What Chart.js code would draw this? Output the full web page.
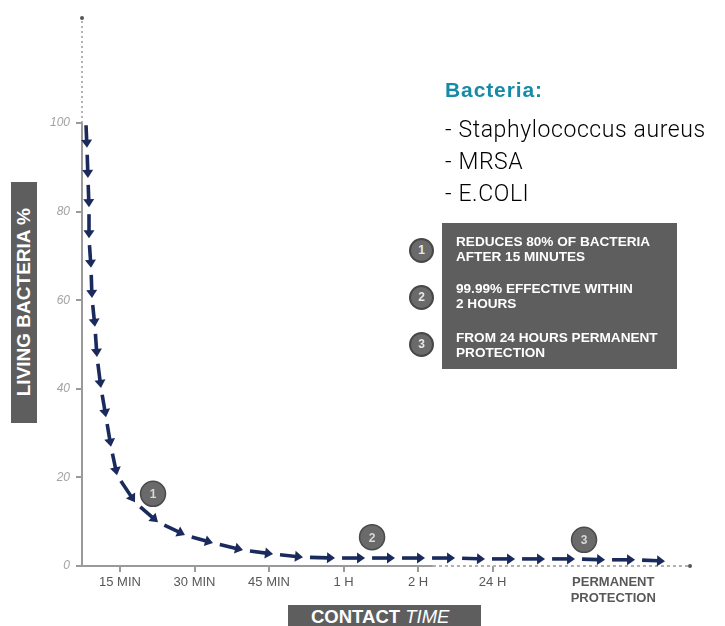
<!DOCTYPE html>
<html>
<head>
<meta charset="utf-8">
<script src="https://cdn.jsdelivr.net/npm/chart.js@4/dist/chart.umd.min.js"></script>
<style>
  body { margin: 0; background: #fff; }
  #wrap { position: relative; width: 725px; height: 626px; overflow: hidden; font-family: 'Liberation Sans', Arial, sans-serif; }
  #chart { position: absolute; left: 0; top: 0; }
  .ytitle { position: absolute; left: 11px; top: 182px; width: 26px; height: 241px; background: #5e5e5e;
            display: flex; align-items: center; justify-content: center; }
  .ytitle span { writing-mode: vertical-rl; transform: rotate(180deg); color: #fff; font-weight: bold; font-size: 19px; white-space: nowrap; }
  .xtitle { position: absolute; left: 288px; top: 605px; width: 193px; height: 30px; background: #5e5e5e; }
  .xtitle span { position: absolute; left: 23px; top: 3px; line-height: 1; color: #fff; font-size: 18.5px; white-space: nowrap; }
  .bact { position: absolute; left: 445px; line-height: 1; white-space: nowrap; }
  .bact.head { color: #168ba7; font-weight: bold; font-size: 21px; letter-spacing: 0.9px; }
  .bact.item { color: #000; font-family: Roboto, sans-serif; font-weight: 300; font-size: 23px; letter-spacing: 0.6px; }
  .notes { position: absolute; left: 442px; top: 223px; width: 235px; height: 146px; background: #5e5e5e; }
  .note { position: absolute; left: 14px; color: #fff; font-weight: bold; font-size: 13.6px; line-height: 15px; white-space: nowrap; }
  .dot { position: absolute; width: 21px; height: 21px; border-radius: 50%; background: #6a6a6a; border: 2px solid #474747;
         color: #e8e8e8; font-weight: bold; font-size: 12px; line-height: 21px; text-align: center; }
</style>
</head>
<body>
<div id="wrap">
  <canvas id="chart" width="725" height="626"></canvas>
  <div class="ytitle"><span>LIVING BACTERIA %</span></div>
  <div class="xtitle"><span><b>CONTACT</b> <i>TIME</i></span></div>
  <div class="bact head" style="top:79px">Bacteria:</div>
  <div class="bact item" style="top:118px">- Staphylococcus aureus</div>
  <div class="bact item" style="top:150px">- MRSA</div>
  <div class="bact item" style="top:182px">- E.COLI</div>
  <div class="dot" style="left:409px; top:238px">1</div>
  <div class="dot" style="left:409px; top:285px">2</div>
  <div class="dot" style="left:409px; top:332px">3</div>
  <div class="notes">
    <div class="note" style="top:11px">REDUCES 80% OF BACTERIA<br>AFTER 15 MINUTES</div>
    <div class="note" style="top:58px">99.99% EFFECTIVE WITHIN<br>2 HOURS</div>
    <div class="note" style="top:107px">FROM 24 HOURS PERMANENT<br>PROTECTION</div>
  </div>
</div>
<script>
// curve: arrow tips along the decay line (first point is where the line starts)
const arrowX = [0.544, 0.557, 0.570, 0.584, 0.584, 0.611, 0.624, 0.664, 0.691, 0.745, 0.812, 0.879, 0.960,
                1.201, 1.510, 1.872, 2.248, 2.651, 3.054, 3.456, 3.886, 4.289, 4.691, 5.094, 5.497, 5.899,
                6.302, 6.705, 7.107, 7.510, 7.913, 8.315];
const arrowY = [99.5, 94.4, 87.6, 81.0, 74.0, 67.3, 60.5, 54.0, 47.2, 40.2, 33.6, 26.9, 20.5,
                14.4, 9.9, 7.0, 5.2, 3.6, 2.7, 2.0, 1.8, 1.8, 1.8, 1.8, 1.8, 1.6,
                1.6, 1.6, 1.6, 1.4, 1.4, 1.1];
// numbered markers on the curve
const markerX = [1.443, 4.383, 7.228];
const markerY = [16.3, 6.5, 5.9];
const markerLabels = ['1', '2', '3'];
// axes
const xTickValues = [1, 2, 3, 4, 5, 6, 7.62];
const xTickLabels = ['15 MIN', '30 MIN', '45 MIN', '1 H', '2 H', '24 H', ['PERMANENT', 'PROTECTION']];
const yTickValues = [0, 20, 40, 60, 80, 100];

const navy = '#1b2a5c';
const axisGrey = '#9a9a9a';

// hand drawn looking axes: solid part, dotted extension, end dot
const axisPlugin = {
    id: 'axisLines',
    beforeDatasetsDraw(chart) {
        const ctx = chart.ctx;
        const a = chart.chartArea;
        const xs = chart.scales.x;
        const ys = chart.scales.y;
        ctx.save();
        ctx.strokeStyle = axisGrey;
        ctx.lineWidth = 2;
        // y axis
        ctx.beginPath();
        ctx.moveTo(a.left, a.bottom);
        ctx.lineTo(a.left, ys.getPixelForValue(100));
        ctx.stroke();
        ctx.setLineDash([2, 3]);
        ctx.lineWidth = 1.5;
        ctx.beginPath();
        ctx.moveTo(a.left, ys.getPixelForValue(100));
        ctx.lineTo(a.left, a.top);
        ctx.stroke();
        // x axis
        ctx.setLineDash([]);
        ctx.lineWidth = 2;
        ctx.beginPath();
        ctx.moveTo(a.left - 6, a.bottom);
        ctx.lineTo(xs.getPixelForValue(5.2), a.bottom);
        ctx.stroke();
        ctx.setLineDash([3, 3]);
        ctx.strokeStyle = '#b0b0b0';
        ctx.beginPath();
        ctx.moveTo(xs.getPixelForValue(5.2), a.bottom);
        ctx.lineTo(a.right, a.bottom);
        ctx.stroke();
        ctx.fillStyle = '#555';
        ctx.beginPath();
        ctx.arc(a.left, a.top, 2, 0, Math.PI * 2);
        ctx.arc(a.right, a.bottom, 2, 0, Math.PI * 2);
        ctx.fill();
        ctx.restore();
    }
};

// dashes with arrow heads between consecutive curve points
const arrowPlugin = {
    id: 'arrows',
    afterDatasetsDraw(chart) {
        const ctx = chart.ctx;
        const pts = chart.getDatasetMeta(0).data;
        ctx.save();
        ctx.strokeStyle = navy;
        ctx.fillStyle = navy;
        ctx.lineWidth = 3.6;
        for (let i = 1; i < pts.length; i++) {
            const p0 = pts[i - 1], p1 = pts[i];
            const dx = p1.x - p0.x, dy = p1.y - p0.y;
            const len = Math.sqrt(dx * dx + dy * dy);
            const ux = dx / len, uy = dy / len;
            const gap = i === 1 ? 0 : 7;
            const head = 8;
            const half = 5.5;
            ctx.beginPath();
            ctx.moveTo(p0.x + ux * gap, p0.y + uy * gap);
            ctx.lineTo(p1.x - ux * (head - 1), p1.y - uy * (head - 1));
            ctx.stroke();
            ctx.beginPath();
            ctx.moveTo(p1.x, p1.y);
            ctx.lineTo(p1.x - ux * head - uy * half, p1.y - uy * head + ux * half);
            ctx.lineTo(p1.x - ux * head + uy * half, p1.y - uy * head - ux * half);
            ctx.closePath();
            ctx.fill();
        }
        // numbers on markers
        const marks = chart.getDatasetMeta(1).data;
        ctx.fillStyle = '#d8d8d8';
        ctx.font = 'bold 12px "Liberation Sans", Arial, sans-serif';
        ctx.textAlign = 'center';
        ctx.textBaseline = 'middle';
        marks.forEach((m, i) => ctx.fillText(markerLabels[i], m.x, m.y + 1));
        ctx.restore();
    }
};

new Chart(document.getElementById('chart'), {
    type: 'scatter',
    data: {
        datasets: [{
            label: 'living bacteria',
            data: arrowX.map((x, i) => ({ x: x, y: arrowY[i] })),
            pointRadius: 0,
            showLine: false
        }, {
            label: 'markers',
            data: markerX.map((x, i) => ({ x: x, y: markerY[i] })),
            pointRadius: 12.5,
            pointHoverRadius: 12.5,
            backgroundColor: '#6a6a6a',
            borderColor: '#4a4a4a',
            borderWidth: 1.5
        }]
    },
    options: {
        responsive: false,
        animation: false,
        layout: { padding: { top: 18, right: 35, left: 0, bottom: 0 } },
        plugins: {
            legend: { display: false },
            tooltip: { enabled: false }
        },
        scales: {
            x: {
                type: 'linear',
                min: 0.49,
                max: 8.65,
                afterBuildTicks: (scale) => { scale.ticks = xTickValues.map(v => ({ value: v })); },
                afterFit: (scale) => { scale.height = 60; },
                border: { display: false },
                grid: {
                    drawOnChartArea: false,
                    tickLength: 6,
                    lineWidth: 2,
                    color: (c) => c.index === 6 ? 'rgba(0,0,0,0)' : axisGrey
                },
                ticks: {
                    padding: 3,
                    autoSkip: false,
                    maxRotation: 0,
                    color: '#585858',
                    font: (c) => c.index === 6
                        ? { family: '"Liberation Sans", Arial, sans-serif', size: 13, weight: 'bold', lineHeight: 1.2 }
                        : { family: '"Liberation Sans", Arial, sans-serif', size: 13 },
                    callback: (value, index) => xTickLabels[index]
                }
            },
            y: {
                min: 0,
                max: 123.7,
                afterBuildTicks: (scale) => { scale.ticks = yTickValues.map(v => ({ value: v })); },
                afterFit: (scale) => { scale.width = 82; },
                border: { display: false },
                grid: {
                    drawOnChartArea: false,
                    tickLength: 6,
                    lineWidth: 2,
                    color: axisGrey
                },
                ticks: {
                    padding: 6,
                    color: '#a3a3a3',
                    font: { family: '"Liberation Sans", Arial, sans-serif', size: 12, style: 'italic' }
                }
            }
        }
    },
    plugins: [axisPlugin, arrowPlugin]
});
</script>
</body>
</html>
